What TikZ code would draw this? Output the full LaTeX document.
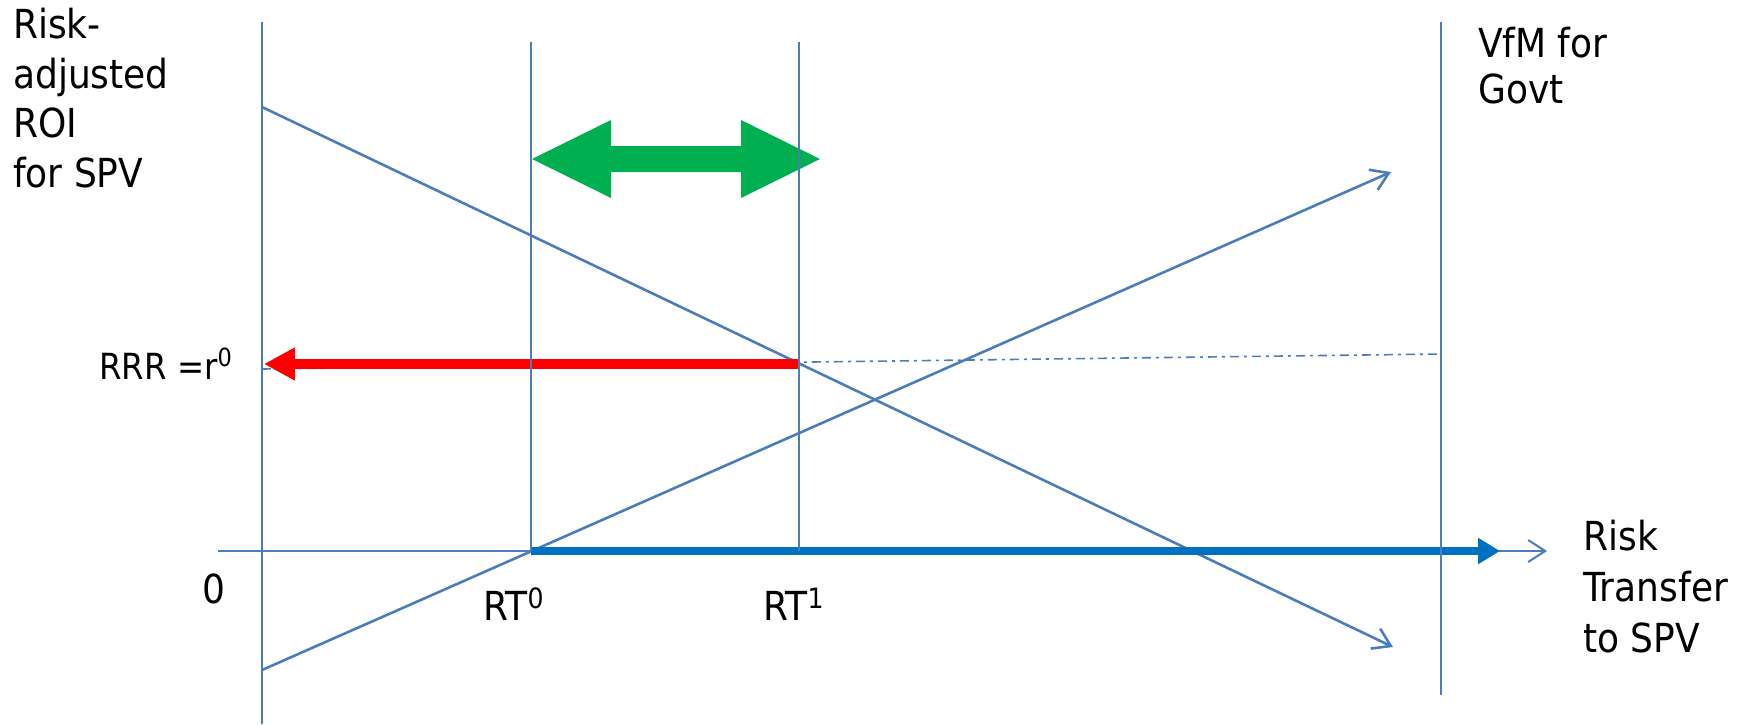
\documentclass[tikz,border=0pt]{standalone}
\usepackage{fontspec}
\setmainfont[FakeStretch=0.9]{DejaVu Sans}
\usetikzlibrary{arrows.meta}
\definecolor{lineblue}{HTML}{4A7EBB}
\definecolor{thickblue}{HTML}{0070C0}
\definecolor{arrowgreen}{HTML}{00B050}
\definecolor{arrowred}{HTML}{FF0000}
% raised small figure: #1 font size, #2 raise, #3 text
\newcommand\supfig[3]{\raisebox{#2pt}{\fontsize{#1}{#1}\selectfont #3}}

\begin{document}
\begin{tikzpicture}[x=1pt,y=-1pt,
  guide/.style={draw=lineblue,line width=2pt},
  slope/.style={draw=lineblue,line width=2.6pt,-{Straight Barb[length=17pt,width=22pt]}},
  axisline/.style={draw=lineblue,line width=2pt,-{Straight Barb[length=17pt,width=22pt]}},
  rrrline/.style={draw=lineblue,line width=1.6pt,dash pattern=on 9pt off 5pt on 3pt off 5pt},
  lbl/.style={inner sep=0pt,font=\fontsize{40}{49.5}\selectfont,align=left,anchor=base west},
]
\useasboundingbox (0,0) rectangle (1752,724);

% key points
\coordinate (ytop) at (262,22);
\coordinate (ybot) at (262,724);
\coordinate (xstart) at (218,551);
\coordinate (xend) at (1547,551);
\coordinate (rt0) at (531,551);
\coordinate (rt0top) at (531,42);
\coordinate (rt1) at (799,551);
\coordinate (rt1top) at (799,42);
\coordinate (vfmtop) at (1441,22);
\coordinate (vfmbot) at (1441,695);
\coordinate (downA) at (262,107);
\coordinate (downB) at (1393,647);
\coordinate (upA) at (262,670);
\coordinate (upB) at (1391,172);
\coordinate (rrrL) at (262,369);
\coordinate (rrrR) at (1441,354);
\coordinate (redA) at (799,364);
\coordinate (redB) at (264,364);
\coordinate (thickEnd) at (1500,551);

% required rate of return level
\draw[rrrline] (rrrL) -- (rrrR);

% ROI and VfM lines
\draw[slope] (downA) -- (downB);
\draw[slope] (upA) -- (upB);

% risk transfer axis
\draw[axisline] (xstart) -- (xend);
\draw[draw=thickblue,line width=8pt,-{Triangle[length=22pt,width=25pt]}] (rt0) -- (thickEnd);

% return arrow to the ROI axis
\draw[draw=arrowred,line width=10pt,-{Triangle[length=31pt,width=31pt]}] (redA) -- (redB);

% range between RT0 and RT1
\fill[arrowgreen] (532,159) -- (611,120) -- (611,146) -- (741,146) -- (741,120)
  -- (820,159) -- (741,198) -- (741,172) -- (611,172) -- (611,198) -- cycle;

% vertical guides
\draw[guide] (ytop) -- (ybot);
\draw[guide] (rt0top) -- (rt0);
\draw[guide] (rt1top) -- (rt1);
\draw[guide] (vfmtop) -- (vfmbot);

% labels (multi-line nodes sit on the baseline of their last line)
\node[lbl] (roi) at (13,187) {Risk-\\adjusted\\ROI\\for SPV};
\node[lbl,font=\fontsize{40}{46}\selectfont] (vfm) at (1478,103) {VfM for\\Govt};
\node[lbl,font=\fontsize{40}{51}\selectfont] (rts) at (1583,652) {Risk\\Transfer\\to SPV};
\node[lbl,anchor=base] (zero) at (214,603) {0};
\node[lbl] (rt0l) at (483,620) {RT\supfig{28}{12}{0}};
\node[lbl] (rt1l) at (763,620) {RT\supfig{28}{12}{1}};
\node[lbl,font=\fontsize{36}{40}\selectfont] (rrr) at (99,379) {RRR =r\supfig{25}{13}{0}};
\end{tikzpicture}
\end{document}
